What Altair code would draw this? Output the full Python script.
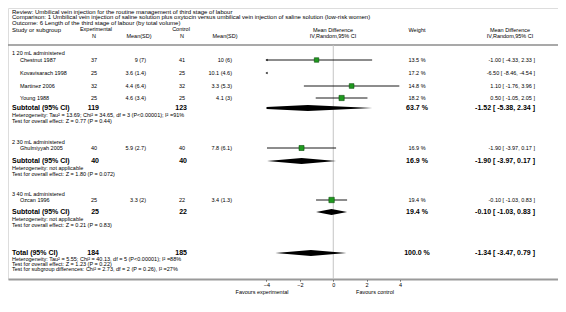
import altair as alt
import pandas as pd

# ---------------- data ----------------
title_lines = [
    "Review:  Umbilical vein injection for the routine management of third stage of labour",
    "Comparison:  1 Umbilical vein injection of saline solution plus oxytocin versus umbilical vein injection of saline solution (low-risk women)",
    "Outcome:  6 Length of the third stage of labour (by total volume)",
]
groups = ["1 20 mL administered", "2 30 mL administered", "3 40 mL administered"]

study_names = ["Chestnut 1987", "Kovavisarach 1998", "Martinez 2006", "Young 1988",
               "Ghulmiyyah 2005", "Ozcan 1996"]
exp_n = [37, 25, 32, 25, 40, 25]
exp_msd = ["9 (7)", "3.6 (1.4)", "4.4 (6.4)", "4.6 (3.4)", "5.9 (2.7)", "3.3 (2)"]
ctl_n = [41, 25, 32, 25, 40, 22]
ctl_msd = ["10 (6)", "10.1 (4.6)", "3.3 (5.3)", "4.1 (3)", "7.8 (6.1)", "3.4 (1.3)"]
md = [-1.00, -6.50, 1.10, 0.50, -1.90, -0.10]
md_lo = [-4.33, -8.46, -1.76, -1.05, -3.97, -1.03]
md_hi = [2.33, -4.54, 3.96, 2.05, 0.17, 0.83]
weight = [13.5, 17.2, 14.8, 18.2, 16.9, 19.4]

sub_labels = ["Subtotal (95% CI)", "Subtotal (95% CI)", "Subtotal (95% CI)", "Total (95% CI)"]
sub_exp_n = [119, 40, 25, 184]
sub_ctl_n = [123, 40, 22, 185]
sub_md = [-1.52, -1.90, -0.10, -1.34]
sub_lo = [-5.38, -3.97, -1.03, -3.47]
sub_hi = [2.34, 0.17, 0.83, 0.79]
sub_weight = [63.7, 16.9, 19.4, 100.0]
sub_notes = [
    ["Heterogeneity: Tau\u00b2 = 13.69; Chi\u00b2 = 34.65, df = 3 (P<0.00001); I\u00b2 =91%",
     "Test for overall effect: Z = 0.77 (P = 0.44)"],
    ["Heterogeneity: not applicable",
     "Test for overall effect: Z = 1.80 (P = 0.072)"],
    ["Heterogeneity: not applicable",
     "Test for overall effect: Z = 0.21 (P = 0.83)"],
    ["Heterogeneity: Tau\u00b2 = 5.55; Chi\u00b2 = 40.13, df = 5 (P<0.00001); I\u00b2 =88%",
     "Test for overall effect: Z = 1.23 (P = 0.22)",
     "Test for subgroup differences: Chi\u00b2 = 2.73, df = 2 (P = 0.26), I\u00b2 =27%"],
]
axis_ticks = [-4, -2, 0, 2, 4]
favours = ["Favours experimental", "Favours control"]

# ---------------- layout (page pixels) ----------------
M = 8
W, H = 550, 271
title_y = [11.5, 17, 22.5]
head1_y, head2_y, line_y = 30, 36, 45
group_y = [53, 142, 194]
study_y = [60, 73, 86, 98, 148, 200]
sub_y = [108, 161, 212, 253]
note_y = [[115, 121], [168, 173.5], [219, 224.5], [259, 263.8, 268.6]]
fav_y = 292
x_left, x_indent = 12, 20
x_expn, x_expm, x_ctln, x_ctlm = 97, 146, 185, 232
x_wt, x_ci = 417, 535
px_zero, px_per_unit = 333.25, 16.69
FONT = "Liberation Sans"
FS, FST, FSB = 5.5, 6, 7

xdom = [-(px_zero - M) / px_per_unit, (W - (px_zero - M)) / px_per_unit]
XS = alt.Scale(domain=xdom, nice=False, zero=False)
YS = alt.Scale(domain=[M, M + H], reverse=True, nice=False, zero=False)


def fmt_ci(m, l, h):
    return f"{m:.2f} [ {l:.2f}, {h:.2f} ]"


def text_layer(texts, ys, x_px, align="left", size=FS, bold=False, color="black"):
    df = pd.DataFrame({"t": texts, "y": ys})
    return alt.Chart(df).mark_text(
        align=align, baseline="middle", font=FONT, fontSize=size,
        fontWeight="bold" if bold else "normal", color=color
    ).encode(x=alt.value(x_px - M), y=alt.Y("y:Q", scale=YS, axis=None), text="t:N")


layers = []
# titles and headers
layers.append(text_layer(title_lines, title_y, x_left, size=FST))
layers.append(text_layer(["Study or subgroup"], [head1_y], x_left, size=FST))
layers.append(text_layer(["Experimental"], [head1_y - 1], 96, "center"))
layers.append(text_layer(["N"], [head2_y], 94, "center"))
layers.append(text_layer(["Mean(SD)"], [head2_y], 139, "center"))
layers.append(text_layer(["Control"], [head1_y - 1], 181, "center"))
layers.append(text_layer(["N"], [head2_y], 182, "center"))
layers.append(text_layer(["Mean(SD)"], [head2_y], 225, "center"))
layers.append(text_layer(["Mean Difference", "IV,Random,95% CI"], [head1_y, head2_y], 333, "center"))
layers.append(text_layer(["Weight"], [head1_y], x_wt, "center"))
layers.append(text_layer(["Mean Difference", "IV,Random,95% CI"], [head1_y, head2_y], 510, "center"))

# groups and studies
layers.append(text_layer(groups, group_y, x_left))
layers.append(text_layer(study_names, study_y, x_indent))
layers.append(text_layer([str(v) for v in exp_n], study_y, x_expn, "right"))
layers.append(text_layer(exp_msd, study_y, x_expm, "right"))
layers.append(text_layer([str(v) for v in ctl_n], study_y, x_ctln, "right"))
layers.append(text_layer(ctl_msd, study_y, x_ctlm, "right"))
layers.append(text_layer([f"{w:.1f} %" for w in weight], study_y, x_wt, "center"))
layers.append(text_layer([fmt_ci(m, l, h) for m, l, h in zip(md, md_lo, md_hi)], study_y, x_ci, "right"))

# subtotals
layers.append(text_layer(sub_labels, sub_y, x_left, size=FSB, bold=True))
layers.append(text_layer([str(v) for v in sub_exp_n], sub_y, x_expn + 2, "right", FSB, True))
layers.append(text_layer([str(v) for v in sub_ctl_n], sub_y, x_ctln + 2, "right", FSB, True))
layers.append(text_layer([f"{w:.1f} %" for w in sub_weight], sub_y, x_wt, "center", FSB, True))
layers.append(text_layer([fmt_ci(m, l, h) for m, l, h in zip(sub_md, sub_lo, sub_hi)], sub_y, x_ci, "right", FSB, True))
note_t, note_yy = [], []
for ns, ys in zip(sub_notes, note_y):
    note_t += ns
    note_yy += ys
layers.append(text_layer(note_t, note_yy, x_left))

# favours labels
layers.append(text_layer([favours[0]], [fav_y], 262, "center"))
layers.append(text_layer([favours[1]], [fav_y], 375, "center"))

# header rule
layers.append(alt.Chart(pd.DataFrame({"y": [line_y]})).mark_rule(color="#8c8c8c", strokeWidth=1.5).encode(
    x=alt.value(0), x2=alt.value(W), y=alt.Y("y:Q", scale=YS, axis=None)))

# zero line
layers.append(alt.Chart(pd.DataFrame({"x": [0.0], "y": [line_y], "y2": [M + H]})).mark_rule(
    color="#c4c4c4", strokeWidth=1).encode(
    x=alt.X("x:Q", scale=XS, axis=alt.Axis(values=axis_ticks, title=None, grid=False,
                                          labelFont=FONT, labelFontSize=FS, labelPadding=1,
                                          domainColor="#9a9a9a", domainWidth=2,
                                          tickColor="#444", tickSize=2, labelColor="black")),
    y=alt.Y("y:Q", scale=YS, axis=None), y2="y2:Q"))

LO, HI = -4, 4
# CI lines (clipped to axis range)
ci = pd.DataFrame({"y": study_y, "lo": md_lo, "hi": md_hi, "md": md, "w": weight})
ci_vis = ci[(ci.hi > LO) & (ci.lo < HI)].copy()
ci_vis["l"] = ci_vis.lo.clip(lower=LO)
ci_vis["h"] = ci_vis.hi.clip(upper=HI)
layers.append(alt.Chart(ci_vis).mark_rule(color="black", strokeWidth=0.9).encode(
    x=alt.X("l:Q", scale=XS), x2="h:Q", y=alt.Y("y:Q", scale=YS, axis=None)))
arr = ci[ci.lo < LO].copy()
arr["a"] = float(LO)
layers.append(alt.Chart(arr).mark_point(shape="triangle-left", filled=True, color="black", size=6, opacity=1).encode(
    x=alt.X("a:Q", scale=XS), y=alt.Y("y:Q", scale=YS, axis=None)))
sq = ci[(ci.md >= LO) & (ci.md <= HI)]
layers.append(alt.Chart(sq).mark_square(color="#1f9a1f", stroke="#0b4d0b", strokeWidth=0.6, opacity=1).encode(
    x=alt.X("md:Q", scale=XS), y=alt.Y("y:Q", scale=YS, axis=None),
    size=alt.Size("w:Q", scale=alt.Scale(domain=[0, 20], range=[0, 30]), legend=None)))

# diamonds
HH = 3.0
rows = []
for i, (m, l, h, yc) in enumerate(zip(sub_md, sub_lo, sub_hi, sub_y)):
    pts = []
    if l < LO:
        f = (LO - l) / (m - l)
        pts.append((LO, HH * f))
    else:
        pts.append((l, 0.0))
    pts.append((m, HH))
    if h > HI:
        f = (h - HI) / (h - m)
        pts.append((HI, HH * f))
    else:
        pts.append((h, 0.0))
    for x, hh in pts:
        rows.append({"id": i, "x": x, "yt": yc - hh, "yb": yc + hh})
dia = pd.DataFrame(rows)
layers.append(alt.Chart(dia).mark_area(color="black", opacity=1).encode(
    x=alt.X("x:Q", scale=XS), y=alt.Y("yt:Q", scale=YS, axis=None), y2="yb:Q", detail="id:N"))

chart = alt.layer(*layers).properties(
    width=W, height=H,
    autosize=alt.AutoSizeParams(type="none"),
    padding={"left": 0, "top": 0, "right": 0, "bottom": 25},
).configure_view(stroke=None).configure(background="white")

chart.save("out.html", embed_options={"renderer": "svg", "actions": False})
